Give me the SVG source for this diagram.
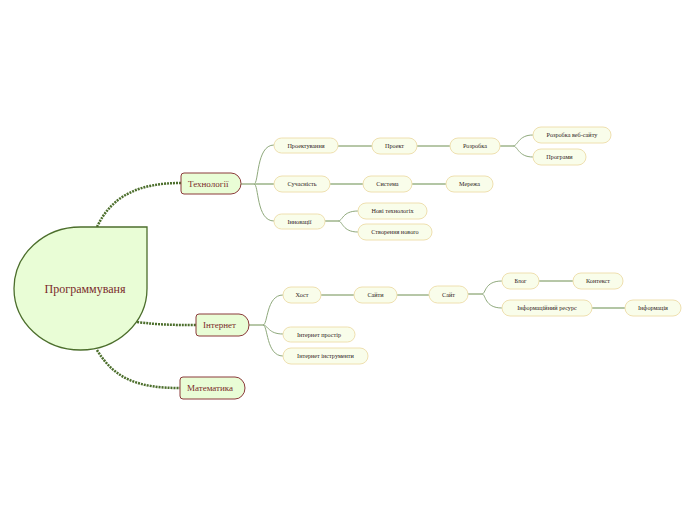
<svg xmlns="http://www.w3.org/2000/svg" width="696" height="520" viewBox="0 0 696 520">
<style>
.main{fill:#e9fdd6;stroke:#8b3a3a;stroke-width:1}
.mt{font-family:"Liberation Serif",serif;font-size:9px;fill:#7a2a2a}
.sub{fill:#f9fdea;stroke:#efe0b0;stroke-width:1}
.st{font-family:"Liberation Serif",serif;font-size:6.2px;fill:#2e2222;text-anchor:middle}
.dot{fill:none;stroke:#4c6e2c;stroke-width:2.5;stroke-dasharray:2 1}
.ln{fill:none;stroke:#6f8f50;stroke-width:1}
.cv{fill:none;stroke:#8fa97c;stroke-width:1}
.lt{fill:none;stroke:#b3c6a5;stroke-width:2}
</style>
<rect width="696" height="520" fill="#ffffff"/>
<g id="connectors">
<path class="dot" d="M97,227 C112,195 140,183 181,183"/>
<path class="dot" d="M137,322 C160,325 175,325 196,325"/>
<path class="dot" d="M97,350 C115,380 140,388 180,388"/>
<path class="ln" d="M241,184 H254"/>
<path class="cv" d="M254,184 C259,184 256,145 274,145"/>
<path class="lt" d="M254,184 H274"/>
<path class="cv" d="M254,184 C259,184 256,221 274,221"/>
<path class="ln" d="M338,146 H372"/>
<path class="ln" d="M417,146 H450"/>
<path class="ln" d="M500,146 H513"/>
<path class="cv" d="M513,146 C518,146 518,135 533,135"/>
<path class="cv" d="M513,146 C518,146 518,157 533,157"/>
<path class="lt" d="M330,184 H363"/>
<path class="lt" d="M412,184 H446"/>
<path class="ln" d="M325,221 H338"/>
<path class="cv" d="M338,221 C343,221 342,211 358,211"/>
<path class="cv" d="M338,221 C343,221 342,232 358,232"/>
<path class="ln" d="M249,325 H263"/>
<path class="cv" d="M263,325 C268,325 266,295 283,295"/>
<path class="cv" d="M263,325 C268,325 268,334 283,334"/>
<path class="cv" d="M263,325 C268,325 266,356 283,356"/>
<path class="ln" d="M321,295 H354"/>
<path class="ln" d="M397,295 H429"/>
<path class="ln" d="M468,294 H482"/>
<path class="cv" d="M482,294 C486,294 484,281 502,281"/>
<path class="cv" d="M482,294 C486,294 484,308 502,308"/>
<path class="ln" d="M539,281 H573"/>
<path class="lt" d="M592,308 H625"/>
</g>
<g id="root">
<path d="M147,227 L80.5,227 A66.5,61.5 0 1 0 147,288.5 Z" fill="#e9fdd6" stroke="#4c6e2c" stroke-width="1.3"/>
<text x="85" y="293" font-family="Liberation Serif,serif" font-size="12" fill="#7a2a2a" text-anchor="middle">Программуваня</text>
</g>
<g id="n-tech">
<path class="main" d="M184,173 H231 A10,10.5 0 0 1 241,183.5 A10,10.5 0 0 1 231,194 H184 A3,3 0 0 1 181,191 V176 A3,3 0 0 1 184,173 Z"/>
<text class="mt" x="188" y="186.5">Технології</text>
</g>
<g id="n-internet">
<path class="main" d="M199,314 H239 A10,11 0 0 1 249,325 A10,11 0 0 1 239,336 H199 A3,3 0 0 1 196,333 V317 A3,3 0 0 1 199,314 Z"/>
<text class="mt" x="203" y="328">Інтернет</text>
</g>
<g id="n-math">
<path class="main" d="M183,377 H235 A10,11 0 0 1 245,388 A10,11 0 0 1 235,399 H183 A3,3 0 0 1 180,396 V380 A3,3 0 0 1 183,377 Z"/>
<text class="mt" x="187" y="391">Математика</text>
</g>
<g id="n-proekt"><rect class="sub" x="274" y="138" width="64" height="15" rx="7.5"/><text class="st" x="306" y="147.5">Проектування</text></g>
<g id="n-proekt2"><rect class="sub" x="372" y="138" width="45" height="16" rx="8"/><text class="st" x="394.5" y="148">Проект</text></g>
<g id="n-rozrobka"><rect class="sub" x="450" y="138" width="50" height="16" rx="8"/><text class="st" x="475" y="148">Розробка</text></g>
<g id="n-web"><rect class="sub" x="533" y="127" width="78" height="16" rx="8"/><text class="st" x="572" y="137">Розробка веб-сайту</text></g>
<g id="n-prog"><rect class="sub" x="533" y="149" width="53" height="16" rx="8"/><text class="st" x="559.5" y="159">Програми</text></g>
<g id="n-such"><rect class="sub" x="274" y="176" width="56" height="16" rx="8"/><text class="st" x="302" y="186">Сучасність</text></g>
<g id="n-syst"><rect class="sub" x="363" y="176" width="49" height="16" rx="8"/><text class="st" x="387.5" y="186">Система</text></g>
<g id="n-merezha"><rect class="sub" x="446" y="176" width="47" height="16" rx="8"/><text class="st" x="469.5" y="186">Мережа</text></g>
<g id="n-innov"><rect class="sub" x="274" y="214" width="51" height="15" rx="7.5"/><text class="st" x="299.5" y="223.5">Інновації</text></g>
<g id="n-novi"><rect class="sub" x="358" y="203" width="69" height="16" rx="8"/><text class="st" x="392.5" y="213">Нові технологіх</text></g>
<g id="n-stvor"><rect class="sub" x="358" y="224" width="74" height="16" rx="8"/><text class="st" x="395" y="234">Створення нового</text></g>
<g id="n-host"><rect class="sub" x="283" y="287" width="38" height="16" rx="8"/><text class="st" x="302" y="297">Хост</text></g>
<g id="n-saity"><rect class="sub" x="354" y="287" width="43" height="16" rx="8"/><text class="st" x="375.5" y="297">Сайти</text></g>
<g id="n-sait"><rect class="sub" x="429" y="286" width="39" height="17" rx="8.5"/><text class="st" x="448.5" y="296.5">Сайт</text></g>
<g id="n-blog"><rect class="sub" x="502" y="273" width="37" height="16" rx="8"/><text class="st" x="520.5" y="283">Блог</text></g>
<g id="n-kontekst"><rect class="sub" x="573" y="273" width="50" height="16" rx="8"/><text class="st" x="598" y="283">Контекст</text></g>
<g id="n-infres"><rect class="sub" x="502" y="300" width="90" height="16" rx="8"/><text class="st" x="547" y="310">Інформаційний ресурс</text></g>
<g id="n-info"><rect class="sub" x="625" y="300" width="56" height="16" rx="8"/><text class="st" x="653" y="310">Інформація</text></g>
<g id="n-prostir"><rect class="sub" x="283" y="327" width="72" height="15" rx="7.5"/><text class="st" x="319" y="336.5">Інтернет простір</text></g>
<g id="n-instr"><rect class="sub" x="283" y="348" width="85" height="16" rx="8"/><text class="st" x="325.5" y="358">Інтернет інструменти</text></g>
</svg>
